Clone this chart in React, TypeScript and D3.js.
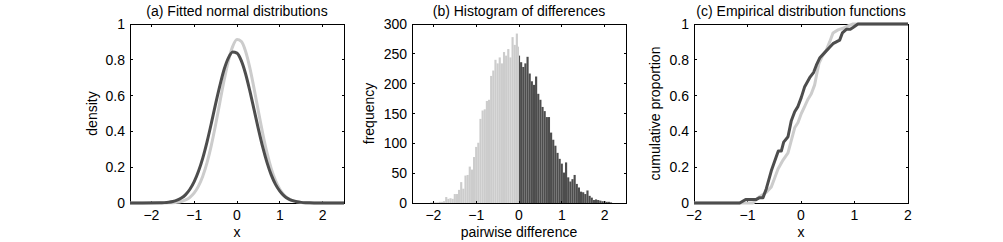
import React from 'react';
import * as d3 from 'd3';

// ---- panel (a): fitted normal densities ----
const densityX = [-2.5, -1.8, -1.7, -1.6, -1.5, -1.4, -1.3, -1.2, -1.1, -1.0, -0.9, -0.8, -0.7, -0.6, -0.5, -0.4, -0.3, -0.2, -0.1, 0,
  0.1, 0.2, 0.3, 0.4, 0.5, 0.6, 0.7, 0.8, 0.9, 1.0, 1.1, 1.2, 1.3, 1.4, 1.5, 1.6, 1.7, 1.8, 2.5];
const densityLight = [0, 0.0001, 0.0003, 0.0008, 0.0019, 0.0042, 0.0087, 0.0171, 0.0318, 0.0562, 0.094, 0.149, 0.225, 0.322, 0.437, 0.563, 0.687, 0.796, 0.875, 0.913,
  0.903, 0.848, 0.755, 0.638, 0.512, 0.39, 0.281, 0.192, 0.125, 0.077, 0.045, 0.025, 0.0131, 0.0066, 0.0031, 0.0014, 0.0006, 0.0002, 0];
const densityDark = [0, 0.001, 0.0021, 0.0043, 0.0083, 0.0155, 0.0276, 0.047, 0.0766, 0.119, 0.177, 0.251, 0.342, 0.445, 0.554, 0.656, 0.747, 0.811, 0.843, 0.837,
  0.795, 0.722, 0.626, 0.52, 0.413, 0.313, 0.227, 0.157, 0.104, 0.0665, 0.0403, 0.0233, 0.0129, 0.0068, 0.0035, 0.0017, 0.0008, 0.0003, 0];

// ---- panel (b): histogram counts, bins of 0.05 ----
const binWidth = 0.05;
const negFirstCenter = -2.05;
const negCounts = [1, 1, 1, 1, 2, 2, 3, 10, 7, 8, 7, 15, 15, 22, 35, 24, 46, 47, 61, 56, 77, 94, 101, 141, 155, 157, 171, 173,
  213, 222, 240, 234, 244, 234, 253, 247, 258, 244, 278, 265, 284, 262];
const posFirstCenter = 0;
const posCounts = [247, 236, 228, 234, 245, 217, 204, 198, 212, 183, 173, 161, 154, 144, 144, 118, 106, 96, 84, 74, 66, 51, 68,
  43, 36, 40, 47, 32, 26, 19, 18, 15, 21, 12, 9, 5, 6, 5, 4, 3, 3, 2, 2, 1];

// ---- panel (c): empirical cdfs ----
const ecdfLightX = [-2, -0.897, -0.835, -0.773, -0.648, -0.555, -0.492, -0.43, -0.336, -0.243, -0.181, -0.118, -0.056, 0.006, 0.069,
  0.131, 0.193, 0.255, 0.287, 0.336, 0.399, 0.474, 0.536, 0.598, 0.692, 0.785, 0.879, 0.972, 2];
const ecdfLightY = [0, 0, 0.02, 0.035, 0.06, 0.09, 0.14, 0.19, 0.24, 0.28, 0.35, 0.42, 0.45, 0.5, 0.54,
  0.58, 0.61, 0.66, 0.71, 0.78, 0.82, 0.855, 0.9, 0.95, 0.967, 0.976, 0.99, 1, 1];
const ecdfDarkX = [-2, -1.146, -1.034, -0.835, -0.773, -0.71, -0.648, -0.555, -0.461, -0.424, -0.368, -0.324, -0.243, -0.181, -0.118,
  -0.056, 0.006, 0.069, 0.162, 0.237, 0.287, 0.349, 0.442, 0.536, 0.598, 0.66, 0.723, 0.773, 0.847, 0.922, 0.972, 1.065, 2];
const ecdfDarkY = [0, 0, 0.02, 0.02, 0.03, 0.03, 0.08, 0.18, 0.26, 0.29, 0.29, 0.34, 0.37, 0.46, 0.51,
  0.54, 0.59, 0.65, 0.7, 0.73, 0.77, 0.81, 0.84, 0.87, 0.89, 0.9, 0.91, 0.95, 0.97, 0.97, 0.98, 1, 1];

const xTicks = [-2, -1, 0, 1, 2];
const unitTicks = [0, 0.2, 0.4, 0.6, 0.8, 1];
const freqTicks = [0, 50, 100, 150, 200, 250, 300];

const LIGHT = '#cccccc';
const DARK = '#4d4d4d';
const FONT = '"Liberation Sans", Arial, Helvetica, sans-serif';

const top = 24;
const bottom = 203;
const plotW = 214;
const panelLeft = [130, 412, 694];

const fmt = (d: number) => (d < 0 ? '\u2212' + Math.abs(d) : String(d));

type Pt = [number, number];
const zip = (xs: number[], ys: number[]): Pt[] => xs.map((x, i) => [x, ys[i]]);

interface FrameProps {
  left: number;
  x: d3.ScaleLinear<number, number>;
  y: d3.ScaleLinear<number, number>;
  yTicks: number[];
  title: string;
  xLabel: string;
  yLabel: string;
  yLabelX: number;
}

// axes box with matlab-style inward ticks on all four sides
const Frame: React.FC<FrameProps> = ({ left, x, y, yTicks, title, xLabel, yLabel, yLabelX }) => {
  const tl = 2.5;
  const right = left + plotW;
  return (
    <g fontFamily={FONT} fontSize={14} fill="#000">
      <rect x={left} y={top} width={plotW} height={bottom - top} fill="none" stroke="#000" strokeWidth={1} shapeRendering="crispEdges" />
      {xTicks.map(t => (
        <g key={'x' + t}>
          <line x1={x(t)} x2={x(t)} y1={bottom} y2={bottom - tl} stroke="#000" shapeRendering="crispEdges" />
          <line x1={x(t)} x2={x(t)} y1={top} y2={top + tl} stroke="#000" shapeRendering="crispEdges" />
          <text x={x(t)} y={bottom + 17} textAnchor="middle">{fmt(t)}</text>
        </g>
      ))}
      {yTicks.map(t => (
        <g key={'y' + t}>
          <line x1={left} x2={left + tl} y1={y(t)} y2={y(t)} stroke="#000" shapeRendering="crispEdges" />
          <line x1={right} x2={right - tl} y1={y(t)} y2={y(t)} stroke="#000" shapeRendering="crispEdges" />
          <text x={left - 5} y={y(t)} dy="0.36em" textAnchor="end">{fmt(t)}</text>
        </g>
      ))}
      <text x={left + plotW / 2} y={16} textAnchor="middle">{title}</text>
      <text x={left + plotW / 2} y={237} textAnchor="middle">{xLabel}</text>
      <text transform={`translate(${yLabelX},${(top + bottom) / 2}) rotate(-90)`} textAnchor="middle">{yLabel}</text>
    </g>
  );
};

export default function App() {
  const yUnit = d3.scaleLinear().domain([0, 1]).range([bottom, top]);

  // (a)
  const xa = d3.scaleLinear().domain([-2.5, 2.5]).range([panelLeft[0], panelLeft[0] + plotW]);
  const curveA = d3.line<Pt>().x(d => xa(d[0])).y(d => yUnit(d[1])).curve(d3.curveMonotoneX);

  // (b)
  const xb = d3.scaleLinear().domain([-2.5, 2.5]).range([panelLeft[1], panelLeft[1] + plotW]);
  const yb = d3.scaleLinear().domain([0, 300]).range([bottom, top]);
  const negBars = negCounts.map((v, i) => {
    const c = negFirstCenter + i * binWidth;
    return { x0: c - binWidth / 2, x1: Math.min(c + binWidth / 2, 0), v };
  });
  const posBars = posCounts.map((v, i) => {
    const c = posFirstCenter + i * binWidth;
    return { x0: Math.max(c - binWidth / 2, 0), x1: c + binWidth / 2, v };
  });

  // (c)
  const xc = d3.scaleLinear().domain([-2, 2]).range([panelLeft[2], panelLeft[2] + plotW]);
  const lineC = d3.line<Pt>().x(d => xc(d[0])).y(d => yUnit(d[1]));

  return (
    <svg width={1003} height={242} style={{ position: 'absolute', left: 0, top: 0, background: '#fff' }}>
      <rect width={1003} height={242} fill="#fff" />

      <Frame left={panelLeft[0]} x={xa} y={yUnit} yTicks={unitTicks} title="(a) Fitted normal distributions"
        xLabel="x" yLabel="density" yLabelX={97} />
      <path d={curveA(zip(densityX, densityLight)) || ''} fill="none" stroke={LIGHT} strokeWidth={3} strokeLinejoin="round" />
      <path d={curveA(zip(densityX, densityDark)) || ''} fill="none" stroke={DARK} strokeWidth={3} strokeLinejoin="round" />

      {negBars.map((b, i) => (
        <rect key={'n' + i} x={xb(b.x0)} width={xb(b.x1) - xb(b.x0)} y={yb(b.v)} height={bottom - yb(b.v)} fill={LIGHT} />
      ))}
      {posBars.map((b, i) => (
        <rect key={'p' + i} x={xb(b.x0)} width={xb(b.x1) - xb(b.x0)} y={yb(b.v)} height={bottom - yb(b.v)} fill={DARK} />
      ))}
      <Frame left={panelLeft[1]} x={xb} y={yb} yTicks={freqTicks} title="(b) Histogram of differences"
        xLabel="pairwise difference" yLabel="frequency" yLabelX={374} />

      <Frame left={panelLeft[2]} x={xc} y={yUnit} yTicks={unitTicks} title="(c) Empirical distribution functions"
        xLabel="x" yLabel="cumulative proportion" yLabelX={660} />
      <path d={lineC(zip(ecdfLightX, ecdfLightY)) || ''} fill="none" stroke={LIGHT} strokeWidth={3} strokeLinejoin="round" />
      <path d={lineC(zip(ecdfDarkX, ecdfDarkY)) || ''} fill="none" stroke={DARK} strokeWidth={3} strokeLinejoin="round" />
    </svg>
  );
}
